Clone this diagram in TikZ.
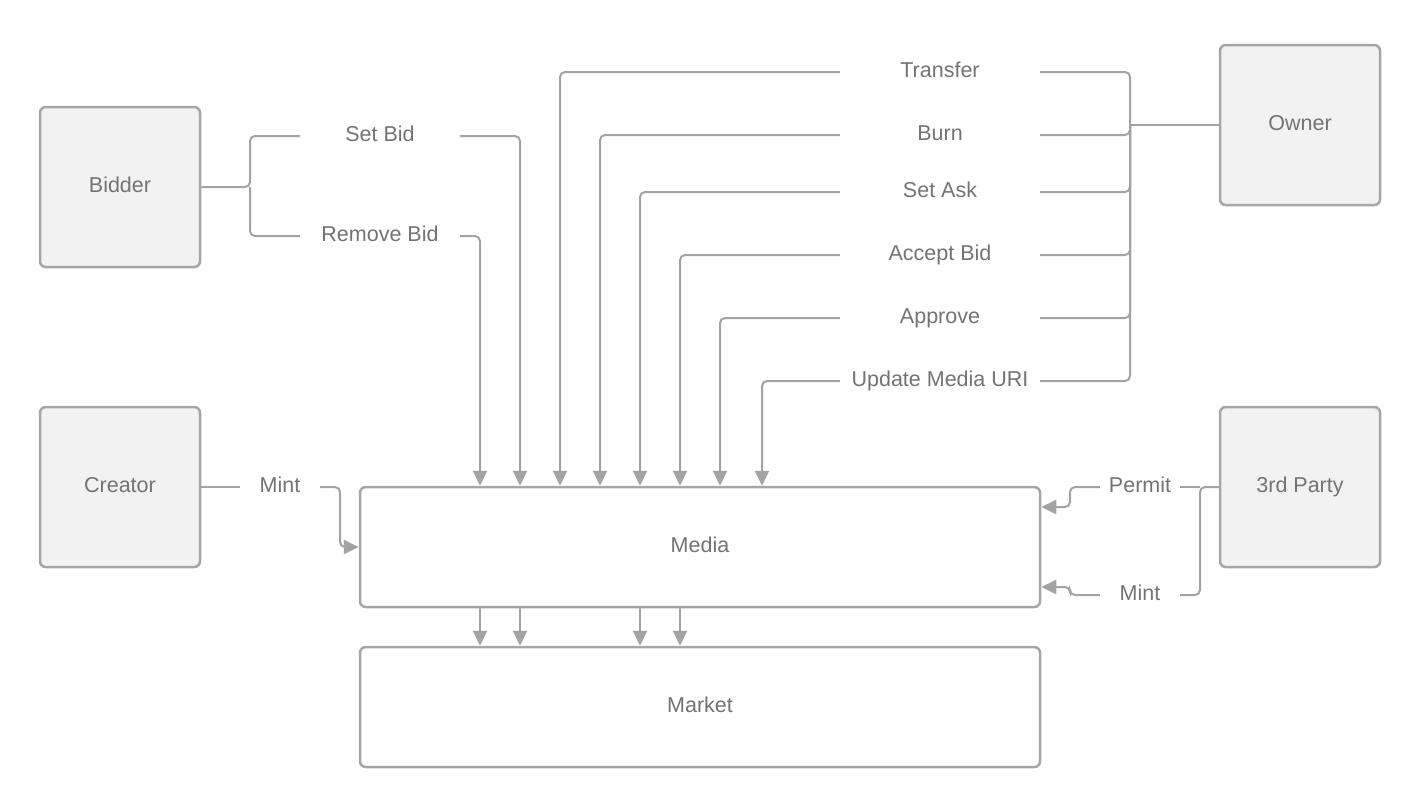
\documentclass[tikz,border=0pt]{standalone}
\usepackage{fontspec}
\setmainfont{Liberation Sans}
\usetikzlibrary{positioning,arrows.meta}
\definecolor{linegray}{HTML}{A3A3A3}
\definecolor{boxgray}{HTML}{A6A6A6}
\definecolor{boxfill}{HTML}{F2F2F2}
\definecolor{textgray}{HTML}{737373}
\begin{document}
\begin{tikzpicture}[x=1pt, y=-1pt,
    actor/.style={rectangle, draw=boxgray, fill=boxfill, line width=2.5pt,
        rounded corners=2mm, minimum width=160pt, minimum height=160pt,
        text height=15pt, text depth=5pt,
        text=textgray, font=\fontsize{21.5}{25}\selectfont},
    contract/.style={actor, fill=white, minimum width=680pt, minimum height=120pt},
    call/.style={rectangle, inner sep=0pt, minimum width=200pt,
        text height=15pt, text depth=5pt,
        text=textgray, font=\fontsize{21.5}{25}\selectfont},
    bidcall/.style={call, minimum width=160pt},
    shortcall/.style={call, minimum width=80pt},
    link/.style={draw=linegray, line width=2pt, rounded corners=5pt},
    flow/.style={link, -{Triangle[length=15pt,width=14pt]}}
]
\useasboundingbox (0,0) rectangle (1420,807);

\node (Bidder) [actor] at (120,187) {Bidder};
\node (Creator) [actor] at (120,487) {Creator};
\node (Owner) [actor] at (1300,125) {Owner};
\node (ThirdParty) [actor] at (1300,487) {3rd Party};
\node (Media) [contract] at (700,547) {Media};
\node (Market) [contract] at (700,707) {Market};

\node (SetBid) [bidcall] at (380,136) {Set Bid};
\node (RemoveBid) [bidcall] at (380,236) {Remove Bid};
\node (Transfer) [call] at (940,72) {Transfer};
\node (Burn) [call] at (940,135) {Burn};
\node (SetAsk) [call] at (940,192) {Set Ask};
\node (AcceptBid) [call] at (940,255) {Accept Bid};
\node (Approve) [call] at (940,318) {Approve};
\node (UpdateURI) [call] at (940,381) {Update Media URI};
\node (MintC) [shortcall] at (280,487) {Mint};
\node (Permit) [shortcall] at (1140,487) {Permit};
\node (MintT) [shortcall] at (1140,595) {Mint};

\coordinate (BidBus) at (250,187);
\coordinate (OwnerBus) at (1130,125);
\coordinate (ThirdBus) at (1200,487);
\coordinate (MintBend) at (340,547);
\coordinate (PermitBend) at (1070,507);
\coordinate (MintTBend) at (1070,587);

\draw [link] (Bidder.east) -- (BidBus) |- (SetBid.west);
\draw [link] (BidBus) |- (RemoveBid.west);
\draw [flow] (SetBid.east) -| (Media.north -| 520,0);
\draw [flow] (RemoveBid.east) -| (Media.north -| 480,0);

\draw [link] (Owner.west) -- (OwnerBus);
\foreach \op/\x in {Transfer/560, Burn/600, SetAsk/640, AcceptBid/680,
    Approve/720, UpdateURI/762} {
  \draw [link] (OwnerBus) |- (\op.east);
  \draw [flow] (\op.west) -| (Media.north -| \x,0);
}

\draw [link] (Creator.east) -- (MintC.west);
\draw [flow] (MintC.east) -| (MintBend) -- (Media.west);

\draw [link] (ThirdParty.west) -- (ThirdBus) |- (MintT.east);
\draw [link] (ThirdBus) -- (Permit.east);
\draw [flow] (Permit.west) -| (PermitBend) -- (Media.east |- PermitBend);
\draw [flow] (MintT.west) -| (MintTBend) -- (Media.east |- MintTBend);

\foreach \x in {480,520,640,680}
  \draw [flow] (Media.south -| \x,0) -- (Market.north -| \x,0);

\end{tikzpicture}
\end{document}
